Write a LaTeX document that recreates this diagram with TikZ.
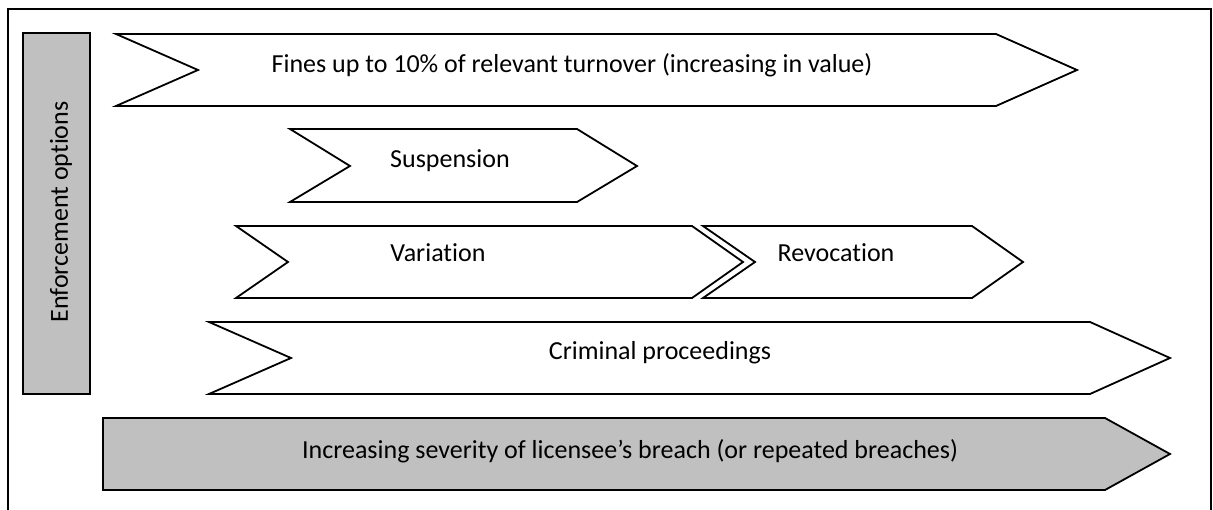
\documentclass[tikz,border=0pt]{standalone}
\usepackage{fontspec}
\setmainfont[Ligatures=NoCommon]{Carlito}
\definecolor{boxgrey}{HTML}{C0C0C0}
\tikzset{
    chev/.style={draw, line width=1.8pt, line join=miter, fill=white},
    greychev/.style={chev, fill=boxgrey},
    label/.style={font=\fontsize{26}{30}\selectfont, inner sep=0pt, anchor=base}
}
\begin{document}
\begin{tikzpicture}[x=1pt, y=-1pt]
        \useasboundingbox (0, 0) rectangle (1213, 510);
        %%draw the frame
        \draw[line width=1.3pt] (8, 9) rectangle (1211, 515);

        %%draw the side box
        \draw[greychev] (23, 33) rectangle (90, 394);
        \node[label, anchor=center, rotate=90] (options) at(61, 212){Enforcement options};

        %%draw the chevrons
        \draw[chev] (116, 34) -- (996, 34) -- (1077, 70) -- (996, 106) -- (116, 106) -- (198, 70) -- cycle;
            \node[label] (fines) at(572, 73){Fines up to 10\% of relevant turnover (increasing in value)};
        \draw[chev] (290, 129) -- (577, 129) -- (637, 166) -- (577, 202) -- (290, 202) -- (350, 166) -- cycle;
            \node[label] (suspension) at(450, 168){Suspension};
        \draw[chev] (236, 226) -- (692, 226) -- (743, 262) -- (692, 298) -- (236, 298) -- (288, 262) -- cycle;
            \node[label] (variation) at(438, 262){Variation};
        \draw[chev] (703, 226) -- (972, 226) -- (1023, 262) -- (972, 298) -- (703, 298) -- (755, 262) -- cycle;
            \node[label] (revocation) at(836, 262){Revocation};
        \draw[chev] (209, 322) -- (1090, 322) -- (1170, 358) -- (1090, 394) -- (209, 394) -- (291, 358) -- cycle;
            \node[label] (criminal) at(660, 360){Criminal proceedings};

        %%draw the severity arrow
        \draw[greychev] (103, 418) -- (1105, 418) -- (1170, 454) -- (1105, 490) -- (103, 490) -- cycle;
            \node[label] (severity) at(630, 458){Increasing severity of licensee’s breach (or repeated breaches)};
    \end{tikzpicture}
\end{document}
